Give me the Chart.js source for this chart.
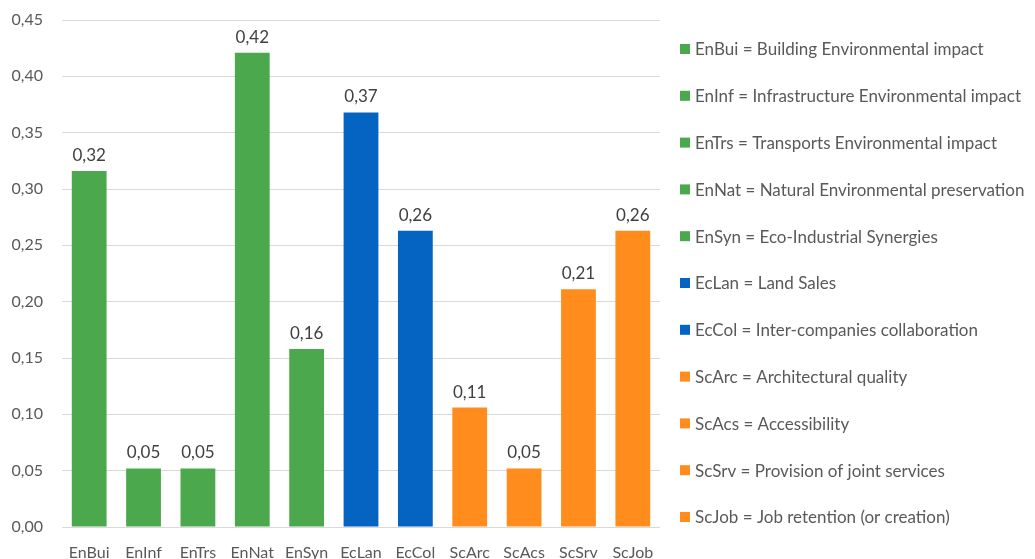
<!DOCTYPE html>
<html>
<head>
<meta charset="utf-8">
<script src="https://cdn.jsdelivr.net/npm/chart.js@4.4.0/dist/chart.umd.min.js"></script>
<style>
html,body{margin:0;padding:0;background:#fff;}
#wrap{width:1035px;height:559px;position:relative;}
</style>
</head>
<body>
<div id="wrap"><canvas id="c" width="1035" height="559"></canvas></div>
<script>
const categories = ["EnBui","EnInf","EnTrs","EnNat","EnSyn","EcLan","EcCol","ScArc","ScAcs","ScSrv","ScJob"];
const descriptions = ["Building Environmental impact","Infrastructure Environmental impact","Transports Environmental impact","Natural Environmental preservation","Eco-Industrial Synergies","Land Sales","Inter-companies collaboration","Architectural quality","Accessibility","Provision of joint services","Job retention (or creation)"];
const values = [0.316, 0.052, 0.052, 0.421, 0.158, 0.368, 0.263, 0.106, 0.052, 0.211, 0.263];
const groups = ["En","En","En","En","En","Ec","Ec","Sc","Sc","Sc","Sc"];
const groupColors = {En:"#4CA84C", Ec:"#0563C1", Sc:"#FF8C1C"};
const yTicks = [0,0.05,0.10,0.15,0.20,0.25,0.30,0.35,0.40,0.45];

const FONT = "Lato";
const fmt = v => v.toFixed(2).replace('.', ',');
const colors = groups.map(g => groupColors[g]);

const valueLabels = {
  id: 'valueLabels',
  afterDatasetsDraw(chart) {
    const ctx = chart.ctx;
    const meta = chart.getDatasetMeta(0);
    ctx.save();
    ctx.font = "17px " + FONT;
    ctx.fillStyle = "#404040";
    ctx.textAlign = "center";
    ctx.textBaseline = "bottom";
    meta.data.forEach((bar, i) => {
      ctx.fillText(fmt(values[i]), bar.x, bar.y - 7);
    });
    ctx.restore();
  }
};

const sideLegend = {
  id: 'sideLegend',
  afterDraw(chart) {
    const ctx = chart.ctx;
    const boxX = 680, textX = 695, firstY = 49, stepY = 46.8, box = 10;
    ctx.save();
    ctx.font = "17px " + FONT;
    ctx.textBaseline = "middle";
    ctx.textAlign = "left";
    categories.forEach((c, i) => {
      const cy = firstY + i * stepY;
      ctx.fillStyle = colors[i];
      ctx.fillRect(boxX, cy - box / 2, box, box);
      ctx.fillStyle = "#595959";
      ctx.fillText(c + " = " + descriptions[i], textX, cy + 1);
    });
    ctx.restore();
  }
};

new Chart(document.getElementById('c'), {
  type: 'bar',
  data: {
    labels: categories,
    datasets: [{
      data: values,
      backgroundColor: colors,
      borderWidth: 0,
      categoryPercentage: 1.0,
      barPercentage: 0.64
    }]
  },
  options: {
    responsive: false,
    animation: false,
    layout: { padding: { top: 20, left: 0, right: 375, bottom: 0 } },
    plugins: {
      tooltip: { enabled: false },
      legend: { display: false }
    },
    scales: {
      x: {
        grid: { display: false },
        border: { display: false },
        afterFit: s => { s.height = 32; },
        ticks: { color: "#595959", font: { family: FONT, size: 16 }, padding: 8 }
      },
      y: {
        min: 0, max: 0.45,
        afterBuildTicks: s => { s.ticks = yTicks.map(v => ({ value: v })); },
        afterFit: s => { s.width = 62; s.paddingTop = 0; s.paddingBottom = 0; },
        grid: { color: "#D9D9D9", lineWidth: 1, drawTicks: false },
        border: { display: false },
        ticks: { color: "#595959", font: { family: FONT, size: 16 }, padding: 19, callback: v => fmt(v) }
      }
    }
  },
  plugins: [valueLabels, sideLegend]
});
</script>
</body>
</html>
